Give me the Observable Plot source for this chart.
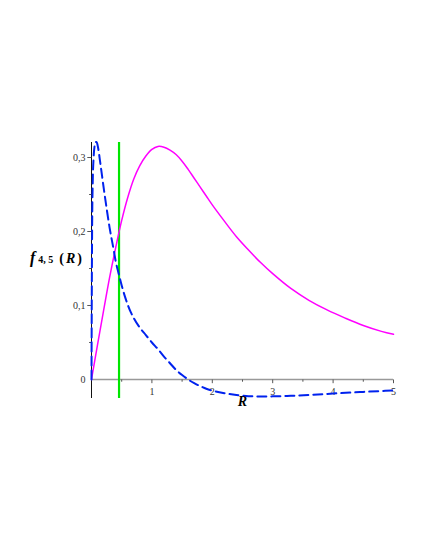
<!DOCTYPE html>
<html>
<head>
<meta charset="utf-8">
<script src="https://cdn.jsdelivr.net/npm/d3@7"></script>
<script src="https://cdn.jsdelivr.net/npm/@observablehq/plot@0.6"></script>
<style>
  html, body { margin: 0; padding: 0; background: #fff; }
  svg { display: block; }
</style>
</head>
<body>
<div id="chart"></div>
<script>
// Magenta solid curve
const magentaR = [0, 0.1, 0.2, 0.3, 0.4, 0.5, 0.6, 0.7, 0.8, 0.9, 1.0, 1.1, 1.2, 1.3, 1.4, 1.5, 1.6, 1.7, 1.8, 1.9, 2.0, 2.2, 2.4, 2.6, 2.8, 3.0, 3.3, 3.6, 3.9, 4.2, 4.5, 4.8, 5.0];
const magentaF = [0, 0.047, 0.093, 0.138, 0.178, 0.215, 0.246, 0.271, 0.289, 0.302, 0.311, 0.315, 0.314, 0.310, 0.304, 0.295, 0.284, 0.272, 0.260, 0.248, 0.236, 0.214, 0.193, 0.175, 0.158, 0.143, 0.123, 0.107, 0.094, 0.083, 0.073, 0.065, 0.061];
// Blue dashed curve
const blueR = [0, 0.005, 0.01, 0.02, 0.035, 0.05, 0.07, 0.085, 0.1, 0.15, 0.2, 0.26, 0.3, 0.37, 0.4, 0.45, 0.5, 0.55, 0.6, 0.65, 0.7, 0.8, 0.9, 1.0, 1.1, 1.2, 1.3, 1.4, 1.5, 1.6, 1.7, 1.8, 1.9, 2.0, 2.2, 2.4, 2.6, 2.8, 3.0, 3.3, 3.6, 4.0, 4.5, 5.0];
const blueF = [0, 0.12, 0.2, 0.265, 0.3, 0.315, 0.321, 0.321, 0.317, 0.29, 0.26, 0.226, 0.205, 0.174, 0.16, 0.143, 0.127, 0.113, 0.101, 0.091, 0.083, 0.07, 0.06, 0.05, 0.041, 0.031, 0.022, 0.013, 0.006, 0.0, -0.005, -0.009, -0.0125, -0.015, -0.0185, -0.021, -0.0225, -0.023, -0.0228, -0.022, -0.021, -0.019, -0.0168, -0.0148];
// Green vertical line position
const greenR = [0.456];
// Axis ticks
const xMajor = [1, 2, 3, 4, 5];
const xMinor = [0.5, 1.5, 2.5, 3.5, 4.5];
const yMajor = [0, 0.1, 0.2, 0.3];
const yMinor = [0.05, 0.15, 0.25];
const xDomain = [0, 5];
const yDomain = [-0.0257, 0.3203];

const magenta = magentaR.map((r, i) => ({R: r, f: magentaF[i]}));
const blue = blueR.map((r, i) => ({R: r, f: blueF[i]}));
const fmt = v => String(v).replace(".", ",");
const font = "Liberation Serif, Times New Roman, serif";

const plot = Plot.plot({
  width: 425,
  height: 550,
  marginLeft: 91,
  marginRight: 32,
  marginTop: 142,
  marginBottom: 152,
  x: {domain: xDomain, axis: null},
  y: {domain: yDomain, axis: null},
  style: {fontFamily: font, background: "#fff"},
  marks: [
    // x axis line at y = 0
    Plot.ruleY([0], {x1: xDomain[0], x2: xDomain[1], stroke: "#999", strokeWidth: 1.6}),
    // x ticks
    Plot.link(xMajor, {x1: d => d, x2: d => d, y1: 0, y2: -0.005, stroke: "#555", strokeWidth: 1}),
    Plot.link(xMinor, {x1: d => d, x2: d => d, y1: 0, y2: -0.003, stroke: "#555", strokeWidth: 1}),
    Plot.text(xMajor, {x: d => d, y: 0, text: d => fmt(d), dy: 12, fontSize: 10, fill: "#333"}),
    // y axis line at x = 0
    Plot.ruleX([0], {y1: yDomain[0], y2: yDomain[1], stroke: "#111", strokeWidth: 1}),
    Plot.link(yMajor.filter(d => d !== 0), {x1: -0.07, x2: 0, y1: d => d, y2: d => d, stroke: "#555", strokeWidth: 1}),
    Plot.link(yMinor, {x1: -0.04, x2: 0, y1: d => d, y2: d => d, stroke: "#555", strokeWidth: 1}),
    Plot.text(yMajor, {x: 0, y: d => d, text: d => fmt(d), dx: -6, textAnchor: "end", fontSize: 10, fill: "#333"}),
    // green vertical line
    Plot.ruleX(greenR, {y1: yDomain[0], y2: yDomain[1], stroke: "#00e600", strokeWidth: 2.2}),
    // curves
    Plot.line(magenta, {x: "R", y: "f", stroke: "#ff00ff", strokeWidth: 1.5, curve: "catmull-rom"}),
    Plot.line(blue, {x: "R", y: "f", stroke: "#0022ee", strokeWidth: 2, strokeDasharray: "9,5", curve: "monotone-x"}),
    // x label
    Plot.text(["R"], {frameAnchor: "bottom", dy: 7, text: d => d, fontSize: 14, fontWeight: "bold", fontStyle: "italic", fill: "#000"})
  ]
});

document.getElementById("chart").appendChild(plot);

// y label with mixed styles
const svg = d3.select(plot);
const lab = svg.append("text")
  .attr("x", 30).attr("y", 263)
  .attr("text-anchor", "start")
  .attr("font-family", font)
  .attr("fill", "#000");
lab.append("tspan").attr("font-size", 16).attr("font-weight", "bold").attr("font-style", "italic").text("f");
lab.append("tspan").attr("font-size", 10).attr("font-weight", "bold").attr("dx", 3).text("4, 5");
lab.append("tspan").attr("font-size", 14).attr("font-weight", "bold").attr("dx", 6).text("(");
lab.append("tspan").attr("font-size", 14).attr("font-weight", "bold").attr("font-style", "italic").attr("dx", 2).text("R");
lab.append("tspan").attr("font-size", 14).attr("font-weight", "bold").attr("dx", 2).text(")");
</script>
</body>
</html>
